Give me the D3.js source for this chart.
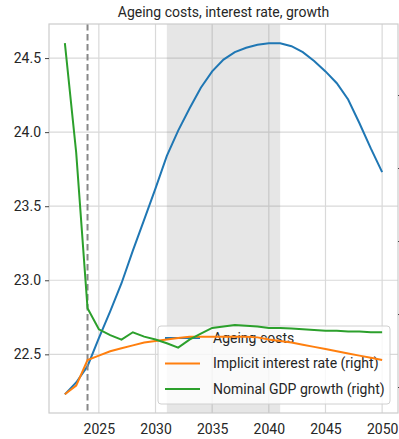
<!DOCTYPE html>
<html>
<head>
<meta charset="utf-8">
<script src="https://cdn.jsdelivr.net/npm/d3@7"></script>
<style>
  body { margin: 0; background: #fff; }
  svg text { font-family: Roboto, "Noto Sans", sans-serif; fill: #262626; }
</style>
</head>
<body>
<svg id="chart" width="399" height="439"></svg>
<script>
// data
var years = d3.range(2022, 2051);
var ageingCosts = [22.23, 22.31, 22.42, 22.61, 22.79, 22.98, 23.20, 23.41, 23.62, 23.84,
                   24.01, 24.16, 24.30, 24.41, 24.49, 24.54, 24.57, 24.59, 24.60, 24.60,
                   24.58, 24.54, 24.48, 24.41, 24.33, 24.22, 24.06, 23.89, 23.73];
var interestRate = [1.90, 2.02, 2.37, 2.43, 2.49, 2.53, 2.57, 2.61, 2.63, 2.65,
                    2.67, 2.69, 2.69, 2.69, 2.69, 2.69, 2.69, 2.68, 2.65, 2.63,
                    2.61, 2.58, 2.55, 2.52, 2.49, 2.46, 2.43, 2.40, 2.37];
var gdpGrowth = [6.71, 5.21, 3.08, 2.79, 2.71, 2.65, 2.75, 2.69, 2.65, 2.60,
                 2.54, 2.65, 2.73, 2.81, 2.83, 2.85, 2.84, 2.83, 2.81, 2.81,
                 2.80, 2.79, 2.78, 2.77, 2.77, 2.76, 2.76, 2.75, 2.75];
var xTicks = [2025, 2030, 2035, 2040, 2045, 2050];
var leftTicks = [22.5, 23.0, 23.5, 24.0, 24.5];
var rightTicks = [2, 3, 4, 5, 6];
var lastActual = 2024;
var shadeRange = [2031, 2041];
var seriesNames = ['Ageing costs', 'Implicit interest rate (right)', 'Nominal GDP growth (right)'];
var seriesColors = ['#1f77b4', '#ff7f0e', '#2ca02c'];

var L = 49, R = 398, T = 24, B = 413;

var svg = d3.select('#chart');

var x = d3.scaleLinear().domain([2020.6, 2051.4]).range([L, R]);
var yL = d3.scaleLinear().domain([22.104, 24.73]).range([B, T]);
var yR = d3.scaleLinear().domain([1.644, 6.973]).range([B, T]);

// grid
svg.append('g').selectAll('line').data(xTicks).enter().append('line')
    .attr('x1', d => x(d)).attr('x2', d => x(d)).attr('y1', T).attr('y2', B)
    .attr('stroke', '#d9d9d9').attr('stroke-width', 1.2);
svg.append('g').selectAll('line').data(leftTicks).enter().append('line')
    .attr('y1', d => yL(d)).attr('y2', d => yL(d)).attr('x1', L).attr('x2', R)
    .attr('stroke', '#d9d9d9').attr('stroke-width', 1.2);

// shaded period
svg.append('rect')
    .attr('x', x(shadeRange[0])).attr('width', x(shadeRange[1]) - x(shadeRange[0]))
    .attr('y', T).attr('height', B - T)
    .attr('fill', '#808080').attr('opacity', 0.2);

var lineL = d3.line().x((d, i) => x(years[i])).y(d => yL(d));
var lineR = d3.line().x((d, i) => x(years[i])).y(d => yR(d));

svg.append('path').datum(ageingCosts).attr('d', lineL)
    .attr('fill', 'none').attr('stroke', seriesColors[0]).attr('stroke-width', 2);

// dashed line at last actual year
svg.append('line')
    .attr('x1', x(lastActual)).attr('x2', x(lastActual)).attr('y1', T).attr('y2', B)
    .attr('stroke', '#888888').attr('stroke-width', 2).attr('stroke-dasharray', '6.5,3.5');

// frame
svg.append('rect').attr('x', L).attr('y', T).attr('width', R - L).attr('height', B - T)
    .attr('fill', 'none').attr('stroke', '#cccccc').attr('stroke-width', 1.2);

// left axis
var axL = svg.append('g').attr('transform', 'translate(' + L + ',0)')
    .call(d3.axisLeft(yL).tickValues(leftTicks).tickFormat(d3.format('.1f')).tickSize(4).tickPadding(4));
axL.select('.domain').remove();
axL.selectAll('line').attr('stroke', '#444');
axL.selectAll('text').style('font-size', '14px').attr('fill', '#262626');

// bottom axis
var axB = svg.append('g').attr('transform', 'translate(0,' + B + ')')
    .call(d3.axisBottom(x).tickValues(xTicks).tickFormat(d3.format('d')).tickSize(0).tickPadding(11));
axB.select('.domain').remove();
axB.selectAll('text').style('font-size', '14px').attr('fill', '#262626');

// right axis (labels fall outside the picture)
var axR = svg.append('g').attr('transform', 'translate(' + R + ',0)')
    .call(d3.axisRight(yR).tickValues(rightTicks).tickFormat('').tickSize(4));
axR.select('.domain').remove();
axR.selectAll('line').attr('stroke', '#444');

// title
svg.append('text').attr('x', (L + R) / 2).attr('y', 17).attr('text-anchor', 'middle')
    .style('font-size', '14px').text('Ageing costs, interest rate, growth');

// legend (belongs to the left axis, so right-axis lines go over it)
var lg = svg.append('g');
lg.append('rect').attr('x', 158).attr('y', 326).attr('width', 232).attr('height', 78).attr('rx', 3)
    .attr('fill', '#ffffff').attr('fill-opacity', 0.8).attr('stroke', '#d0d0d0');
seriesNames.forEach(function (name, i) {
    var yy = 338 + i * 25.5;
    lg.append('line').attr('x1', 165).attr('x2', 200).attr('y1', yy).attr('y2', yy)
        .attr('stroke', seriesColors[i]).attr('stroke-width', 2);
    lg.append('text').attr('x', 213).attr('y', yy).attr('dy', '0.35em')
        .style('font-size', '14px').text(name);
});

svg.append('path').datum(interestRate).attr('d', lineR)
    .attr('fill', 'none').attr('stroke', seriesColors[1]).attr('stroke-width', 2);
svg.append('path').datum(gdpGrowth).attr('d', lineR)
    .attr('fill', 'none').attr('stroke', seriesColors[2]).attr('stroke-width', 2);
</script>
</body>
</html>
